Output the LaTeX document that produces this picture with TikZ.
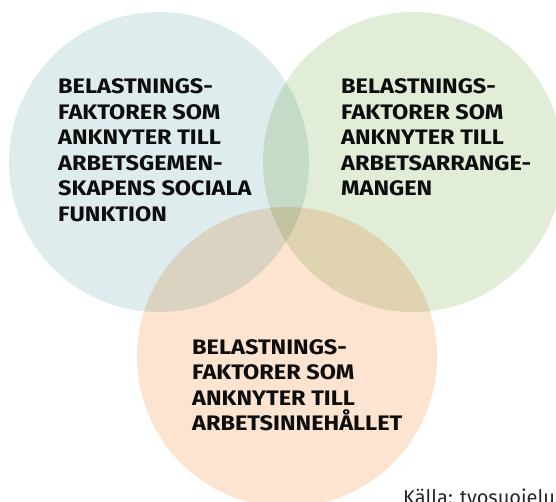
\documentclass[tikz,border=0pt]{standalone}
\usepackage{fontspec}
\setmainfont{Fira Sans}
\newfontfamily\labfont[FakeStretch=1.12]{Fira Sans}
\definecolor{cblue}{HTML}{DEECED}
\definecolor{cgreen}{HTML}{E2EDD8}
\definecolor{corange}{HTML}{FCE4D1}
\tikzset{
  lab/.style={font=\labfont\bfseries\fontsize{21}{25.5}\selectfont, align=left, inner sep=0pt, anchor=north west, text=black!95},
  src/.style={font=\fontsize{20}{22}\selectfont, inner sep=0pt, anchor=base west, text=black!85}
}
\begin{document}
\begin{tikzpicture}[x=1pt,y=-1pt]
\useasboundingbox (0,0) rectangle (556,501);
\clip (0,0) rectangle (556,501);
\begin{scope}[blend group=multiply]
  \fill[cblue] (159,162) circle[radius=150pt];
  \fill[cgreen] (413,162) circle[radius=150pt];
  \fill[corange] (287,357) circle[radius=150pt];
\end{scope}
\node[lab] (tblue) at (58,78.5) {BELASTNINGS-\\FAKTORER SOM\\ANKNYTER TILL\\ARBETSGEMEN-\\SKAPENS SOCIALA\\FUNKTION};
\node[lab] (tgreen) at (341,78.5) {BELASTNINGS-\\FAKTORER SOM\\ANKNYTER TILL\\ARBETSARRANGE-\\MANGEN};
\node[lab] (torange) at (192,339) {BELASTNINGS-\\FAKTORER SOM\\ANKNYTER TILL\\ARBETSINNEHÅLLET};
\node[src] (source) at (403,504) {Källa: tyosuojelu};
\end{tikzpicture}
\end{document}
